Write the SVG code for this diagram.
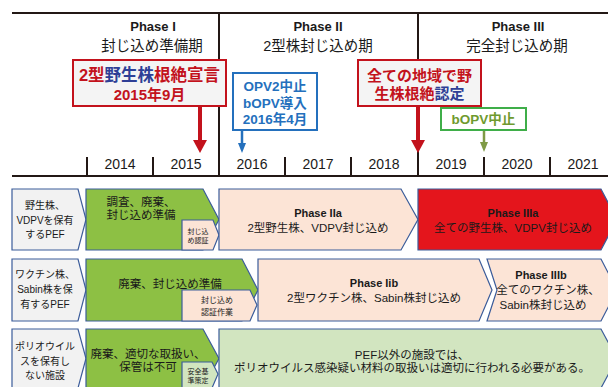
<svg xmlns="http://www.w3.org/2000/svg" width="608" height="387" viewBox="0 0 608 387">
<defs>
<style>
text{font-family:"Liberation Sans","Noto Sans CJK JP",sans-serif;text-anchor:middle;fill:#1a1a1a}
.ax{stroke:#231815;stroke-width:2;fill:none}
.tk{stroke:#231815;stroke-width:2}
.yr{font-size:14px}
.ph{font-size:13px;font-weight:bold}
.pj{font-size:14.5px}
.shape{stroke:#3b5c9a;stroke-width:1.2}
.gray{fill:#f2f2f2}
.green{fill:#8dc044}
.peach{fill:#fce4d6}
.red{fill:#e4151c}
.lgreen{fill:#d2e5c0}
.lbl{font-size:10px}
.body{font-size:11.5px}
.pb{font-size:11px;font-weight:bold}
.sm{font-size:7px}
.sm2{font-size:8px}
.rt{fill:#c3121c;font-weight:bold}
.bt{fill:#2e3f96;font-weight:bold}
.blt{fill:#2470bd;font-weight:bold;font-size:13.5px}
.gt{fill:#6f9a2e;font-weight:bold;font-size:13.5px}
</style>
</defs>

<g id="timeline">
<line class="ax" x1="12" y1="13" x2="608" y2="13"/>
<line class="ax" x1="12" y1="176" x2="608" y2="176"/>
<line class="tk" x1="219" y1="13" x2="219" y2="176"/>
<line class="tk" x1="418" y1="13" x2="418" y2="176"/>
<line class="tk" x1="87" y1="157" x2="87" y2="176"/>
<line class="tk" x1="153" y1="157" x2="153" y2="176"/>
<line class="tk" x1="285" y1="157" x2="285" y2="176"/>
<line class="tk" x1="351" y1="157" x2="351" y2="176"/>
<line class="tk" x1="484" y1="157" x2="484" y2="176"/>
<line class="tk" x1="550" y1="157" x2="550" y2="176"/>
<text class="yr" x="120" y="169">2014</text>
<text class="yr" x="186" y="169">2015</text>
<text class="yr" x="252" y="169">2016</text>
<text class="yr" x="318" y="169">2017</text>
<text class="yr" x="384" y="169">2018</text>
<text class="yr" x="451" y="169">2019</text>
<text class="yr" x="517" y="169">2020</text>
<text class="yr" x="583" y="169">2021</text>
</g>

<g id="phase1-header">
<text class="ph" x="153" y="31">Phase I</text>
<text class="pj" x="152" y="51">封じ込め準備期</text>
</g>
<g id="phase2-header">
<text class="ph" x="318" y="31">Phase II</text>
<text class="pj" x="318" y="51">2型株封じ込め期</text>
</g>
<g id="phase3-header">
<text class="ph" x="518" y="31">Phase III</text>
<text class="pj" x="517" y="51">完全封じ込め期</text>
</g>

<g id="connectors">
<line x1="200" y1="106" x2="200" y2="142" stroke="#c3121c" stroke-width="4"/>
<polygon points="193,140 207,140 200,153" fill="#c3121c"/>
<line x1="418" y1="106" x2="418" y2="142" stroke="#c3121c" stroke-width="4"/>
<polygon points="411,140 425,140 418,153" fill="#c3121c"/>
<line x1="242" y1="130" x2="242" y2="145" stroke="#2470bd" stroke-width="2.5"/>
<polygon points="238,143 246,143 242,153" fill="#2470bd"/>
<line x1="484" y1="130" x2="484" y2="144" stroke="#7f9a45" stroke-width="2.5"/>
<polygon points="480,142 488,142 484,152" fill="#7f9a45"/>
</g>

<g id="event-wild2">
<rect x="73" y="60" width="153" height="46" fill="#f4f4f4" stroke="#c3121c" stroke-width="2"/>
<text x="149.5" y="81" font-size="16.5px"><tspan class="rt">2型</tspan><tspan class="bt">野生株</tspan><tspan class="rt">根絶宣言</tspan></text>
<text class="rt" x="149.5" y="100" font-size="15px">2015年9月</text>
</g>

<g id="event-opv2">
<rect x="233" y="73" width="84" height="57" fill="#ffffff" stroke="#2470bd" stroke-width="2"/>
<text class="blt" x="275" y="91">OPV2中止</text>
<text class="blt" x="275" y="108">bOPV導入</text>
<text class="blt" x="275" y="124">2016年4月</text>
</g>

<g id="event-certify">
<rect x="358" y="60" width="123" height="46" fill="#f4f4f4" stroke="#c3121c" stroke-width="2"/>
<text class="rt" x="419.5" y="81" font-size="15px">全ての地域で野</text>
<text x="419.5" y="99" font-size="15px"><tspan class="rt">生株根絶</tspan><tspan class="bt">認定</tspan></text>
</g>

<g id="event-bopv">
<rect x="441" y="108" width="85" height="22" fill="#ffffff" stroke="#3fae49" stroke-width="2"/>
<text class="gt" x="483.5" y="124">bOPV中止</text>
</g>

<g id="row1-label">
<polygon class="shape gray" points="12,189 78,189 86,219.5 78,250 12,250"/>
<text class="lbl" x="45" y="209">野生株、</text>
<text class="lbl" x="45" y="224">VDPVを保有</text>
<text class="lbl" x="45" y="238">するPEF</text>
</g>
<g id="row1-phase1">
<polygon class="shape green" points="86,189 203,189 219,219.5 203,250 86,250"/>
<text class="body" x="141" y="206">調査、廃棄、</text>
<text class="body" x="141" y="219">封じ込め準備</text>
</g>
<g id="row1-cert">
<polygon class="shape peach" points="182,220 213,220 219,235 213,250 182,250"/>
<text class="sm" x="198" y="234">封じ込</text>
<text class="sm" x="198" y="243">め認証</text>
</g>
<g id="row1-phase2a">
<polygon class="shape peach" points="219,189 401,189 418,219.5 401,250 219,250"/>
<text class="pb" x="318" y="217">Phase IIa</text>
<text class="body" x="318" y="232">2型野生株、VDPV封じ込め</text>
</g>
<g id="row1-phase3a">
<polygon class="shape red" points="418,189 601,189 617,219.5 601,250 418,250"/>
<text class="pb" x="513" y="217">Phase IIIa</text>
<text class="body" x="513" y="232">全ての野生株、VDPV封じ込め</text>
</g>

<g id="row2-label">
<polygon class="shape gray" points="12,259 78,259 86,290 78,321 12,321"/>
<text class="lbl" x="45" y="278">ワクチン株、</text>
<text class="lbl" x="45" y="293">Sabin株を保</text>
<text class="lbl" x="45" y="308">有するPEF</text>
</g>
<g id="row2-phase1">
<polygon class="shape green" points="86,259 242,259 258,290 242,321 86,321"/>
<text class="body" x="170" y="288">廃棄、封じ込め準備</text>
</g>
<g id="row2-cert">
<polygon class="shape peach" points="182,290 250,290 257,305 250,321 182,321"/>
<text class="sm2" x="217" y="303">封じ込め</text>
<text class="sm2" x="217" y="315">認証作業</text>
</g>
<g id="row2-phase2b">
<polygon class="shape peach" points="258,259 479,259 492,290 479,321 258,321"/>
<text class="pb" x="374" y="287">Phase Iib</text>
<text class="body" x="374" y="302">2型ワクチン株、Sabin株封じ込め</text>
</g>
<g id="row2-phase3b">
<polygon class="shape peach" points="487,259 601,259 617,290 601,321 487,321 497,290"/>
<text class="pb" x="541" y="279">Phase IIIb</text>
<text class="body" x="548" y="294">全てのワクチン株、</text>
<text class="body" x="543" y="309">Sabin株封じ込め</text>
</g>

<g id="row3-label">
<polygon class="shape gray" points="12,329 78,329 86,358.5 78,388 12,388"/>
<text class="lbl" x="45" y="350">ポリオウイル</text>
<text class="lbl" x="45" y="365">スを保有し</text>
<text class="lbl" x="45" y="379">ない施設</text>
</g>
<g id="row3-phase1">
<polygon class="shape green" points="86,329 203,329 219,358.5 203,388 86,388"/>
<text class="body" x="148" y="358">廃棄、適切な取扱い、</text>
<text class="body" x="148" y="371">保管は不可</text>
</g>
<g id="row3-safety">
<polygon class="shape lgreen" points="182,362 212,362 218,374 212,388 182,388"/>
<text class="sm" x="198" y="374">安全基</text>
<text class="sm" x="198" y="383">準策定</text>
</g>
<g id="row3-other">
<polygon class="shape lgreen" points="219,329 601,329 617,358.5 601,388 219,388"/>
<text class="body" x="412" y="359">PEF以外の施設では、</text>
<text class="body" x="412" y="372">ポリオウイルス感染疑い材料の取扱いは適切に行われる必要がある。</text>
</g>
</svg>
